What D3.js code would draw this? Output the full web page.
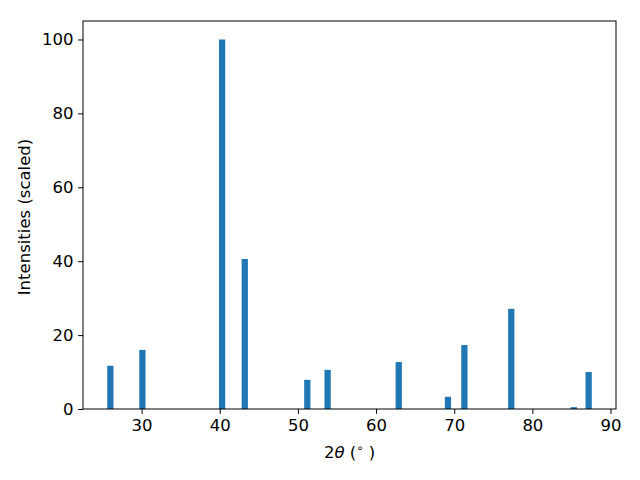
<!DOCTYPE html>
<html><head><meta charset="utf-8">
<script src="https://cdn.jsdelivr.net/npm/d3@7"></script>
<style>body{margin:0;background:#fff}svg{display:block}text{font-family:"DejaVu Sans",sans-serif}</style>
</head><body>
<svg id="c" width="640" height="480"></svg>
<script>
const positions = [26.0, 30.1, 40.3, 43.2, 51.2, 53.8, 62.9, 69.2, 71.3, 77.3, 85.3, 87.2];
const intensities = [11.7, 16.0, 100, 40.6, 7.9, 10.6, 12.7, 3.3, 17.3, 27.1, 0.5, 10.0];
const xTicks = [30, 40, 50, 60, 70, 80, 90];
const yTicks = [0, 20, 40, 60, 80, 100];
const barWidth = 0.8;

const svg = d3.select("#c");
const L = 83, R = 616, T = 21, B = 409;
const FS = 16.5;
const xmin = d3.min(positions) - barWidth/2, xmax = d3.max(positions) + barWidth/2;
const xm = (xmax - xmin) * 0.05;
const x = d3.scaleLinear().domain([xmin - xm, xmax + xm]).range([L, R]);
const y = d3.scaleLinear().domain([0, 105]).range([B, T]);

svg.append("g").selectAll("rect").data(positions).join("rect")
  .attr("x", (d) => x(d - barWidth/2))
  .attr("width", (d) => x(d + barWidth/2) - x(d - barWidth/2))
  .attr("y", (d, i) => y(intensities[i]))
  .attr("height", (d, i) => y(0) - y(intensities[i]))
  .attr("fill", "#1f77b4");

const xa = svg.append("g").attr("transform", `translate(0,${B})`)
  .call(d3.axisBottom(x).tickValues(xTicks).tickSize(4.9).tickPadding(5).tickFormat(d3.format("d")));
const ya = svg.append("g").attr("transform", `translate(${L},0)`)
  .call(d3.axisLeft(y).tickValues(yTicks).tickSize(4.9).tickPadding(4.5).tickFormat(d3.format("d")));
[xa, ya].forEach(a => {
  a.select(".domain").remove();
  a.selectAll("text").attr("font-size", FS).attr("fill", "#000").attr("font-family", "DejaVu Sans");
  a.selectAll("line").attr("stroke", "#000").attr("stroke-width", 1);
});
svg.append("rect").attr("x", L).attr("y", T).attr("width", R - L).attr("height", B - T)
  .attr("fill", "none").attr("stroke", "#000").attr("stroke-width", 1);

const xl = svg.append("text").attr("x", (L + R) / 2).attr("y", 458).attr("text-anchor", "middle")
  .attr("font-size", FS).attr("fill", "#000");
xl.append("tspan").text("2");
xl.append("tspan").attr("font-style", "italic").text("θ");
xl.append("tspan").text(" (");
xl.append("tspan").attr("font-size", 11.5).attr("dy", -6).text("∘");
xl.append("tspan").attr("dy", 6).text(" )");

svg.append("text").attr("transform", `translate(30,${(T + B) / 2 + 2}) rotate(-90)`)
  .attr("text-anchor", "middle").attr("font-size", FS).attr("fill", "#000")
  .text("Intensities (scaled)");
</script>
</body></html>
